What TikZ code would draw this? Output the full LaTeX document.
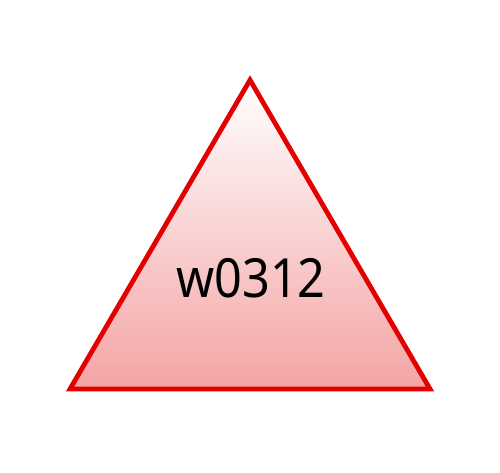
\documentclass[tikz,border=0pt]{standalone}
\usepackage{fontspec}
\setmainfont{Noto Sans}
\newfontfamily\lblfont[FakeStretch=0.9]{Noto Sans}
\begin{document}
\begin{tikzpicture}[x=1pt,y=-1pt,
  tri/.style={draw={rgb,255:red,226;green,0;blue,0},line width=4.8pt,line join=miter,
    top color=white,bottom color={rgb,255:red,244;green,164;blue,164}},
  lbl/.style={font=\lblfont\fontsize{54}{60}\selectfont,text=black}]
\useasboundingbox (0,0) rectangle (500,472);
\path[tri] (250,80) -- (430,389) -- (70,389) -- cycle;
\node[lbl] (t) at (251,278) {w0312};
\end{tikzpicture}
\end{document}
